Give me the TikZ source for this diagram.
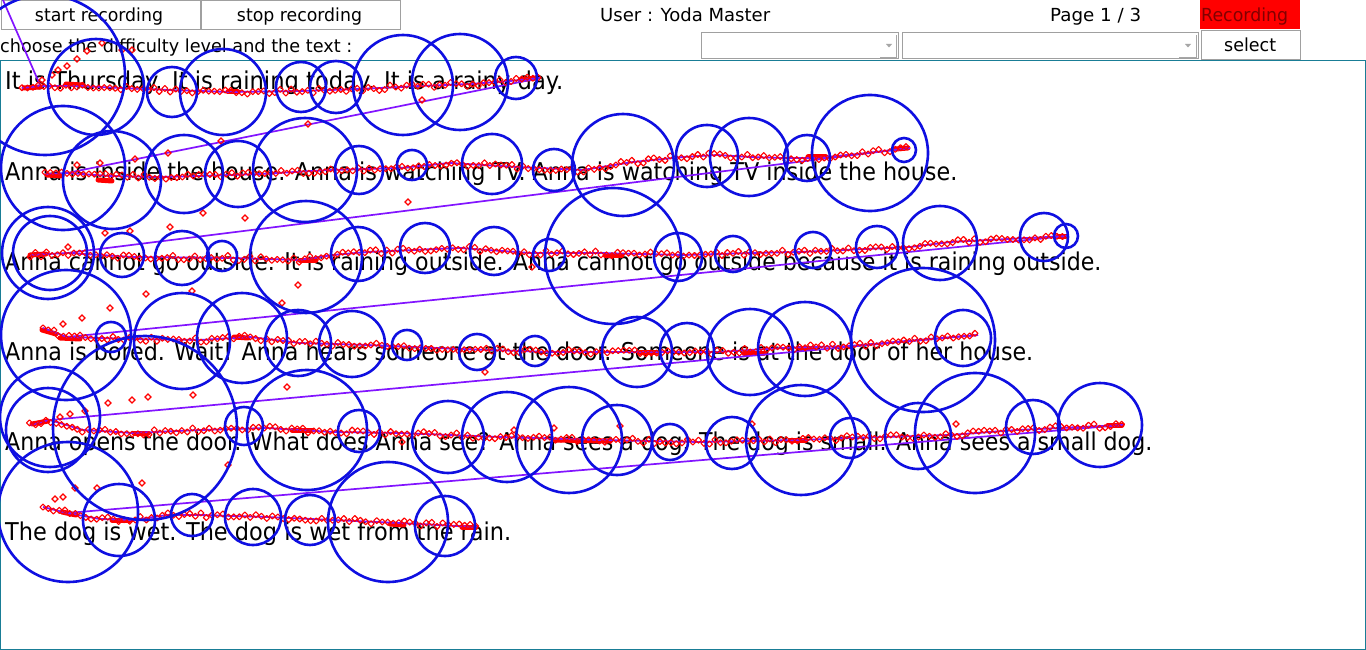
\documentclass[tikz,border=0pt]{standalone}
\usepackage{fontspec}
\setmainfont{DejaVu Sans}
\usetikzlibrary{decorations.markings}
\definecolor{fixblue}{RGB}{15,15,225}
\definecolor{gazepurple}{RGB}{130,20,255}
\definecolor{frameteal}{RGB}{25,125,150}
\definecolor{recred}{RGB}{255,0,0}
\definecolor{rectext}{RGB}{130,0,0}
\definecolor{btnedge}{RGB}{160,160,160}
\newcommand\fitto[2]{\resizebox{#1}{\height}{#2}}
\tikzset{
  btnbox/.style={draw=btnedge, fill=white, line width=1pt, inner sep=0pt},
  combobox/.style={draw=btnedge, fill=white, line width=1pt, inner sep=0pt},
  uitext/.style={inner sep=0pt, anchor=base west, font=\fontsize{18}{20}\selectfont},
  readtext/.style={inner sep=0pt, anchor=base west, font=\fontsize{24.5}{28}\selectfont},
  fix/.style={draw=fixblue, line width=2.6pt},
  dmd/.pic={\draw[red, line width=1.1pt] (0,3)--(3,0)--(0,-3)--(-3,0)--cycle;},
  blob/.style={draw=red, line width=5pt, line cap=round},
  sweep/.style={draw=gazepurple, line width=1.7pt},
  gazeline/.style={draw=gazepurple, line width=1.8pt, line join=round,
    postaction={decorate},
    decoration={markings, mark=between positions 0 and 1 step 5.5pt with
      {\pgfmathsetmacro\jy{2.4*rand}\pic at (0,\jy) {dmd};}}},
}
\begin{document}
\begin{tikzpicture}[x=1pt,y=-1pt]
\pgfmathsetseed{7}
\useasboundingbox (0,0) rectangle (1366,650);
\fill[white] (0,0) rectangle (1366,650);
% ---- top bar widgets
\node[btnbox, anchor=north west, minimum width=199pt, minimum height=29pt] (bstart) at (0.5,0.5) {};
\node[btnbox, anchor=north west, minimum width=199pt, minimum height=29pt] (bstop) at (200.5,0.5) {};
\node[uitext, anchor=base] (tstart) at (99,22) {\fitto{128pt}{start recording}};
\node[uitext, anchor=base] (tstop) at (299.5,22) {\fitto{125pt}{stop recording}};
\node[uitext] (tuser) at (600,22) {\fitto{170pt}{User : Yoda Master}};
\node[uitext] (tpage) at (1050,22) {\fitto{91pt}{Page 1 / 3}};
\node[fill=recred, anchor=north west, minimum width=100pt, minimum height=29pt, inner sep=0pt] (brec) at (1200,0) {};
\node[uitext, text=rectext] (trec) at (1201,22) {\fitto{87pt}{Recording}};
\node[uitext] (tchoose) at (0,53) {\fitto{352pt}{choose the difficulty level and the text :}};
\node[combobox, anchor=north west, minimum width=197pt, minimum height=26pt] (combo1) at (700.5,32.5) {};
\node[combobox, anchor=north west, minimum width=296pt, minimum height=26pt] (combo2) at (901.5,32.5) {};
\fill[gray!70] (886,44) -- (892,44) -- (889,47.5) -- cycle;
\fill[gray!70] (1185,44) -- (1191,44) -- (1188,47.5) -- cycle;
\draw[gray!70, line width=0.8pt] (880,57) -- (896,57) -- (896,35);
\draw[gray!70, line width=0.8pt] (1179,57) -- (1196,57) -- (1196,35);
\node[btnbox, anchor=north west, minimum width=99pt, minimum height=29pt] (bselect) at (1200.5,30.5) {};
\node[uitext] (tselect) at (1224,52) {\fitto{52pt}{select}};
% ---- reading area
\draw[frameteal, line width=1pt] (0.5,60.5) rectangle (1365.5,649.5);
\node[readtext] (l1) at (5,90) {\fitto{558pt}{It is Thursday. It is raining today. It is a rainy day.}};
\node[readtext] (l2) at (5,180) {\fitto{952pt}{Anna is inside the house. Anna is watching TV. Anna is watching TV inside the house.}};
\node[readtext] (l3) at (5,270) {\fitto{1096pt}{Anna cannot go outside. It is raining outside. Anna cannot go outside because it is raining outside.}};
\node[readtext] (l4) at (5,360) {\fitto{1028pt}{Anna is bored. Wait! Anna hears someone at the door. Someone is at the door of her house.}};
\node[readtext] (l5) at (5,450) {\fitto{1147pt}{Anna opens the door. What does Anna see? Anna sees a dog. The dog is small. Anna sees a small dog.}};
\node[readtext] (l6) at (5,540) {\fitto{506pt}{The dog is wet. The dog is wet from the rain.}};
% ---- gaze data
\begin{scope}
\clip (0,0) rectangle (1366,650);
\coordinate (g0) at (3,0);
\coordinate (e1) at (540,78);
\coordinate (s2) at (67,173);
\coordinate (e2) at (910,148);
\coordinate (s3) at (67,253);
\coordinate (e3) at (1067,236);
\coordinate (s4) at (67,337);
\coordinate (e4) at (978,335);
\coordinate (s5) at (50,420);
\coordinate (e5) at (1123,425);
\coordinate (s6) at (67,513);
% dense sample clusters
\foreach \xa/\ya/\xb/\yb in {24/88/40/87, 66/84/82/85, 228/92/238/92, 520/80/536/78,
  47/175/62/176, 98/180/112/181, 808/157/826/157, 896/149/908/148,
  30/255/46/254, 300/260/316/260, 605/255/622/255, 1058/236/1066/236,
  42/330/56/334, 60/338/80/339, 234/337/248/338, 640/352/656/352, 744/353/764/353, 800/348/814/348,
  32/424/48/421, 134/433/148/433, 292/430/312/430, 555/440/610/441, 790/440/806/440, 1108/425/1122/425,
  62/512/76/515, 112/520/130/520, 390/524/404/525, 462/527/476/527}
  \draw[blob] (\xa,\ya) -- (\xb,\yb);
\draw[sweep] (g0) -- (40,85);
\draw[sweep] (e1) -- (s2);
\draw[sweep] (e2) -- (s3);
\draw[sweep] (e3) -- (s4);
\draw[sweep] (e4) -- (s5);
\draw[sweep] (e5) -- (s6);
\draw[gazeline] plot coordinates {(22,88) (40,86) (80,86) (120,88) (170,90) (230,92) (300,91) (360,89) (420,86) (470,84) (510,81) (540,78)};
\draw[gazeline] plot coordinates {(45,174) (67,173) (110,176) (160,177) (200,176) (260,174) (330,170) (400,168) (450,163) (517,167) (583,170) (633,162) (683,157) (717,155) (750,157) (783,158) (817,158) (867,153) (910,148)};
\draw[gazeline] plot coordinates {(30,255) (67,253) (133,257) (233,258) (300,260) (333,255) (367,252) (460,248) (530,253) (600,253) (683,255) (750,253) (800,252) (910,247) (950,242) (1067,236)};
\draw[gazeline] plot coordinates {(43,328) (67,337) (133,339) (200,340) (250,337) (300,343) (367,345) (460,349) (550,352) (650,352) (717,352) (783,348) (850,346) (917,340) (978,335)};
\draw[gazeline] plot coordinates {(30,425) (50,420) (83,430) (133,433) (200,430) (267,428) (333,432) (400,433) (500,437) (600,440) (700,442) (800,440) (850,438) (950,435) (1017,430) (1123,425)};
\draw[gazeline] plot coordinates {(43,507) (67,513) (100,519) (133,520) (167,515) (200,515) (267,517) (333,520) (400,523) (477,527)};
\foreach \p in {(87,51),(102,43),(122,50),(132,50),(77,59),(67,66),(58,70),(52,75),(42,80),
  (422,100),(308,124),(221,141),(168,153),(135,159),(100,163),(77,165),
  (408,202),(245,218),(203,213),(170,227),(130,231),(105,233),(68,247),
  (298,285),(282,303),(192,291),(146,294),(110,308),(82,318),(63,324),
  (485,372),(532,267),(287,387),(193,395),(148,397),(132,400),(108,403),(85,411),(70,414),(60,417),
  (228,465),(142,483),(97,488),(75,488),(63,497),(55,499),(956,424),(752,424),(514,430),(554,428),(620,426),(402,442)}
  \pic at \p {dmd};
\foreach \cx/\cy/\rr in {45/75/80, 96/87/48, 172/92/25, 223/92/43, 301/87/25, 336/87/26, 403/85/50, 460/82/48, 516/78/21,
  63/168/62, 112/180/49, 184/174/39, 238/174/33, 305/170/52, 359/170/24, 412/165/15, 492/164/30, 554/170/21, 623/165/51, 707/156/31, 749/157/39, 807/158/23, 870/153/58, 904/150/12,
  48/253/46, 50/253/37, 122/255/22, 182/258/27, 222/256/15, 306/257/56, 358/254/27, 425/248/25, 494/251/24, 549/255/16, 613/256/68, 678/257/24, 733/254/18, 813/250/18, 877/247/21, 940/243/37, 1044/237/24, 1066/236/12,
  66/335/65, 111/337/15, 182/341/48, 242/338/45, 298/343/33, 352/344/33, 407/345/15, 477/352/18, 535/351/15, 637/352/35, 687/350/27, 750/352/43, 805/349/47, 923/340/72, 963/338/28,
  50/417/50, 48/430/42, 145/428/92, 244/426/19, 307/430/60, 359/431/21, 448/437/36, 507/437/45, 569/440/53, 617/440/35, 670/442/18, 732/443/26, 801/440/55, 850/438/20, 918/436/33, 975/433/60, 1033/427/27, 1100/425/42,
  68/512/70, 119/520/36, 192/515/21, 253/517/28, 310/520/25, 388/522/60, 445/526/30}
  \draw[fix] (\cx,\cy) circle[radius=\rr pt];
\end{scope}
\end{tikzpicture}
\end{document}
